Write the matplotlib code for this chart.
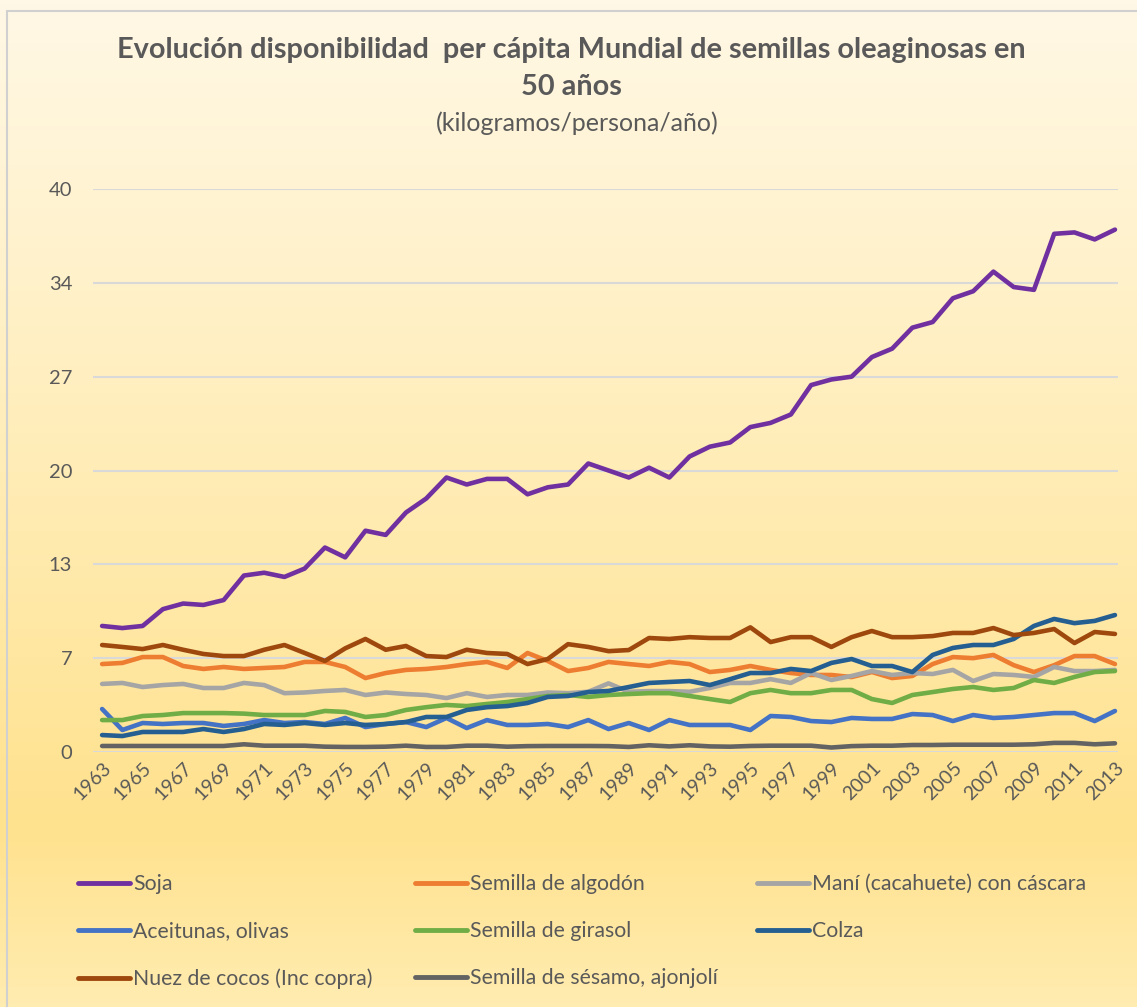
import numpy as np
import matplotlib
matplotlib.use("Agg")
import matplotlib.pyplot as plt
from matplotlib.colors import LinearSegmentedColormap
from matplotlib.lines import Line2D

years = list(range(1963, 2014))

soja = [9.0, 8.85, 9.0, 10.2, 10.6, 10.5, 10.85, 12.6, 12.8, 12.5,
        13.1, 14.6, 13.9, 15.8, 15.5, 17.1, 18.1, 19.6, 19.1, 19.5,
        19.5, 18.4, 18.9, 19.1, 20.6, 20.1, 19.6, 20.3, 19.6, 21.1,
        21.8, 22.1, 23.2, 23.5, 24.1, 26.2, 26.6, 26.8, 28.2, 28.8,
        30.3, 30.7, 32.4, 32.9, 34.3, 33.2, 33.0, 37.0, 37.1, 36.6, 37.3]
algodon = [6.28, 6.36, 6.78, 6.78, 6.14, 5.93, 6.07, 5.93, 6.0, 6.07,
           6.43, 6.43, 6.07, 5.28, 5.64, 5.86, 5.93, 6.07, 6.28, 6.43,
           6.0, 7.07, 6.5, 5.78, 6.0, 6.43, 6.28, 6.14, 6.43, 6.28,
           5.71, 5.86, 6.14, 5.86, 5.64, 5.5, 5.5, 5.35, 5.71, 5.28,
           5.43, 6.28, 6.78, 6.7, 6.93, 6.2, 5.71, 6.2, 6.85, 6.85, 6.28]
mani = [4.86, 4.93, 4.64, 4.78, 4.86, 4.57, 4.57, 4.93, 4.78, 4.2,
        4.25, 4.36, 4.43, 4.07, 4.25, 4.14, 4.07, 3.85, 4.2, 3.93,
        4.07, 4.07, 4.25, 4.2, 4.3, 4.9, 4.3, 4.35, 4.35, 4.3,
        4.57, 4.93, 4.93, 5.2, 4.93, 5.64, 5.14, 5.43, 5.78, 5.5,
        5.64, 5.57, 5.86, 5.07, 5.57, 5.5, 5.36, 6.07, 5.78, 5.78, 5.86]
aceitunas = [3.07, 1.57, 2.07, 2.0, 2.07, 2.07, 1.86, 2.0, 2.28, 2.07,
             2.14, 2.0, 2.43, 1.78, 2.0, 2.14, 1.78, 2.43, 1.71, 2.28,
             1.93, 1.93, 2.0, 1.78, 2.28, 1.64, 2.07, 1.57, 2.28, 1.93,
             1.93, 1.93, 1.57, 2.57, 2.5, 2.21, 2.14, 2.43, 2.36, 2.36,
             2.71, 2.64, 2.21, 2.64, 2.43, 2.5, 2.64, 2.78, 2.78, 2.21, 2.93]
girasol = [2.28, 2.28, 2.57, 2.64, 2.78, 2.78, 2.78, 2.74, 2.64, 2.64,
           2.64, 2.93, 2.86, 2.5, 2.64, 3.0, 3.2, 3.36, 3.28, 3.43,
           3.57, 3.78, 4.0, 4.07, 3.93, 4.07, 4.14, 4.2, 4.2, 4.0,
           3.78, 3.57, 4.2, 4.43, 4.2, 4.2, 4.43, 4.43, 3.78, 3.5,
           4.07, 4.28, 4.5, 4.64, 4.43, 4.57, 5.14, 4.93, 5.36, 5.71, 5.78]
colza = [1.21, 1.14, 1.43, 1.43, 1.43, 1.64, 1.43, 1.64, 2.0, 1.93,
         2.07, 1.93, 2.07, 1.93, 2.0, 2.14, 2.5, 2.5, 3.0, 3.2,
         3.28, 3.5, 3.93, 4.0, 4.28, 4.36, 4.64, 4.93, 5.0, 5.07,
         4.78, 5.2, 5.64, 5.64, 5.93, 5.78, 6.36, 6.64, 6.14, 6.14,
         5.71, 6.93, 7.43, 7.64, 7.64, 8.07, 9.0, 9.5, 9.2, 9.36, 9.78]
coco = [7.64, 7.5, 7.35, 7.64, 7.3, 7.0, 6.85, 6.85, 7.3, 7.64,
        7.07, 6.5, 7.4, 8.07, 7.3, 7.57, 6.85, 6.78, 7.3, 7.07,
        7.0, 6.28, 6.64, 7.7, 7.5, 7.2, 7.28, 8.14, 8.07, 8.2,
        8.14, 8.14, 8.9, 7.85, 8.2, 8.2, 7.5, 8.2, 8.64, 8.2,
        8.2, 8.28, 8.5, 8.5, 8.85, 8.35, 8.5, 8.78, 7.78, 8.57, 8.43]
sesamo = [0.43, 0.43, 0.43, 0.43, 0.43, 0.43, 0.43, 0.55, 0.45, 0.45,
          0.45, 0.38, 0.36, 0.36, 0.38, 0.45, 0.36, 0.36, 0.45, 0.45,
          0.38, 0.42, 0.43, 0.43, 0.43, 0.42, 0.36, 0.48, 0.4, 0.48,
          0.4, 0.38, 0.43, 0.45, 0.45, 0.45, 0.32, 0.42, 0.45, 0.45,
          0.5, 0.5, 0.52, 0.52, 0.52, 0.52, 0.55, 0.65, 0.65, 0.55, 0.62]

series_names = ["Soja", "Semilla de algodón", "Maní (cacahuete) con cáscara",
                "Aceitunas, olivas", "Semilla de girasol", "Colza",
                "Nuez de cocos (Inc copra)", "Semilla de sésamo, ajonjolí"]
series_values = [soja, algodon, mani, aceitunas, girasol, colza, coco, sesamo]
colors = ["#7030A0", "#ED7D31", "#A5A5A5", "#4472C4", "#70AD47", "#255E91",
          "#9E480E", "#636363"]

ytick_vals = [0, 6.7, 13.4, 20.1, 26.8, 33.5, 40.2]
ytick_labels = ["0", "7", "13", "20", "27", "34", "40"]
xtick_years = years[::2]

title_line1 = "Evolución disponibilidad  per cápita Mundial de semillas oleaginosas en"
title_line2 = "50 años"
subtitle = "(kilogramos/persona/año)"

plt.rcParams['font.family'] = ['Lato', 'DejaVu Sans']
txt = "#595959"

W, H = 1137, 1007
fig = plt.figure(figsize=(W / 100, H / 100), dpi=100)

# background gradient
bg = fig.add_axes([0, 0, 1, 1], zorder=-10)
cmap = LinearSegmentedColormap.from_list(
    "bg", [(0, "#FFF8E6"), (0.45, "#FFEDB8"), (0.82, "#FFE28E"), (1.0, "#FFECB0")])
grad = np.linspace(0, 1, 256).reshape(-1, 1)
bg.imshow(grad, aspect="auto", cmap=cmap, extent=[0, 1, 0, 1], origin="upper")
bg.set_xlim(0, 1); bg.set_ylim(0, 1)
bg.axis("off")
bg.add_patch(plt.Rectangle((7 / W, -0.01), 1.02, 1 - 11 / H + 0.01, fill=False,
                           edgecolor="#D0D0D0", lw=1.5, transform=bg.transAxes))

left, right = 93 / W, 1118 / W
bottom, top = 1 - 752 / H, 1 - 189 / H
ax = fig.add_axes([left, bottom, right - left, top - bottom])
ax.set_facecolor("none")

for name, vals, c in zip(series_names, series_values, colors):
    ax.plot(years, vals, color=c, lw=3.3, solid_capstyle="round",
            solid_joinstyle="round", label=name)

ax.set_ylim(0, 40.2)
ax.set_xlim(1962.55, 2013.15)
ax.set_yticks(ytick_vals)
ax.set_yticklabels(ytick_labels)
ax.set_xticks(xtick_years)
ax.set_xticklabels([str(y) for y in xtick_years], rotation=45, ha="right",
                   va="top", rotation_mode="anchor")
ax.tick_params(axis="y", length=0, pad=15, labelsize=14.5, labelcolor=txt)
ax.tick_params(axis="x", length=0, pad=5, labelsize=14, labelcolor=txt)
ax.grid(axis="y", color="#D9D9D9", lw=1.5, zorder=0)
ax.set_axisbelow(True)
for s in ax.spines.values():
    s.set_visible(False)

fig.text(571 / W, 1 - 50 / H, title_line1, ha="center", va="center", fontsize=20.8,
         fontweight="bold", color=txt)
fig.text(571 / W, 1 - 87 / H, title_line2, ha="center", va="center", fontsize=20.8,
         fontweight="bold", color=txt)
fig.text(577 / W, 1 - 123 / H, subtitle, ha="center", va="center", fontsize=18,
         color=txt)

# legend: three columns placed at fixed positions
handles = [Line2D([], [], color=c, lw=3.5, solid_capstyle="round") for c in colors]
cols = [[0, 3, 6], [1, 4, 7], [2, 5]]
col_x = [78, 415, 757]
for cx, idx in zip(col_x, cols):
    fig.legend([handles[i] for i in idx], [series_names[i] for i in idx],
               loc="upper left", bbox_to_anchor=(cx / W, 1 - 874 / H),
               frameon=False, fontsize=15.3, labelcolor=txt,
               handlelength=2.45, handletextpad=0.15, labelspacing=1.28,
               borderaxespad=0, borderpad=0)

fig.savefig("out.png", dpi=100)
